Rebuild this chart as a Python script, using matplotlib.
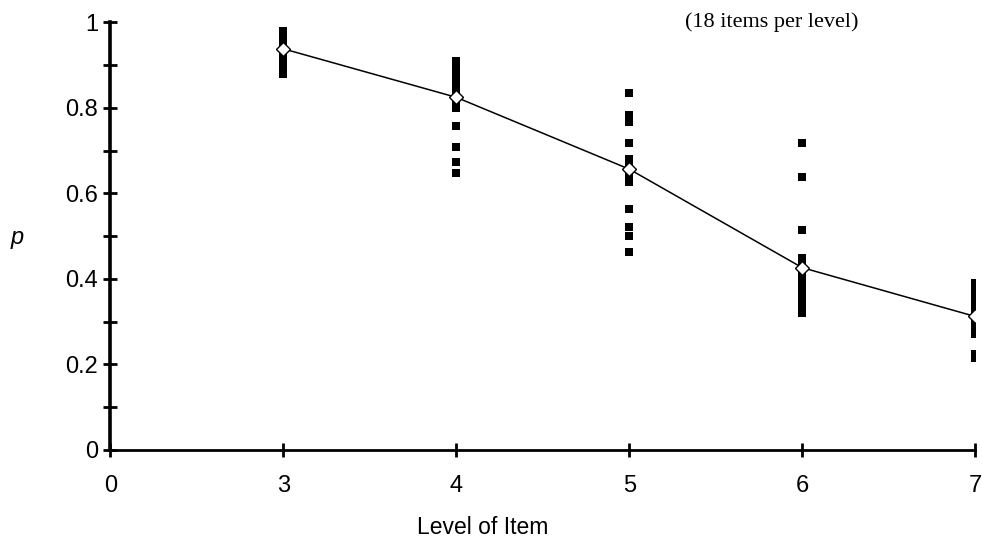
import numpy as np
import matplotlib.pyplot as plt

# category axis as drawn in the source chart
x_labels = ['0', '3', '4', '5', '6', '7']
levels = [3, 4, 5, 6, 7]
y_ticks = [0, 0.2, 0.4, 0.6, 0.8, 1]
y_tick_labels = ['0', '0.2', '0.4', '0.6', '0.8', '1']
y_minor = [0.1, 0.3, 0.5, 0.7, 0.9]

# proportion correct for the 18 items of each level
p_level3 = [0.98, 0.975, 0.97, 0.965, 0.96, 0.955, 0.95, 0.95, 0.945,
            0.94, 0.935, 0.93, 0.925, 0.92, 0.91, 0.90, 0.89, 0.88]
p_level4 = [0.91, 0.905, 0.90, 0.89, 0.885, 0.88, 0.87, 0.86, 0.85,
            0.84, 0.83, 0.82, 0.81, 0.80, 0.758, 0.709, 0.674, 0.647]
p_level5 = [0.834, 0.784, 0.766, 0.718, 0.679, 0.667, 0.644, 0.627, 0.564,
            0.520, 0.501, 0.462, 0.78, 0.77, 0.68, 0.66, 0.64, 0.52]
p_level6 = [0.718, 0.639, 0.515, 0.448, 0.43, 0.42, 0.41, 0.405, 0.40,
            0.395, 0.39, 0.385, 0.38, 0.37, 0.36, 0.35, 0.335, 0.32]
p_level7 = [0.39, 0.38, 0.37, 0.36, 0.35, 0.34, 0.33, 0.32, 0.31,
            0.305, 0.30, 0.295, 0.29, 0.285, 0.28, 0.27, 0.225, 0.215]
items = [p_level3, p_level4, p_level5, p_level6, p_level7]

plt.rcParams['font.family'] = ['Liberation Sans', 'DejaVu Sans']

fig = plt.figure(figsize=(9.82, 5.42), dpi=100)
ax = fig.add_axes([0.1125, 0.17, 0.8805, 0.789])

pos = [x_labels.index(str(lv)) for lv in levels]
for xp, vals in zip(pos, items):
    ax.plot([xp] * len(vals), vals, linestyle='none', marker='s',
            markersize=5.8, color='black', markeredgewidth=0, zorder=2)

means = [np.mean(v) for v in items]
ax.plot(pos, means, color='black', linewidth=1.1, marker='D',
        markersize=7, markerfacecolor='white', markeredgecolor='black',
        markeredgewidth=1.0, zorder=3)

ax.set_xlim(0, len(x_labels) - 1)
ax.set_ylim(0, 1)
ax.set_xticks(range(len(x_labels)))
ax.set_xticklabels(x_labels)
ax.set_yticks(y_ticks)
ax.set_yticklabels(y_tick_labels)
ax.set_yticks(y_minor, minor=True)

for s in ['top', 'right']:
    ax.spines[s].set_visible(False)
ax.spines['left'].set_linewidth(2.6)
ax.spines['bottom'].set_linewidth(2.0)
ax.tick_params(axis='both', which='both', direction='inout', length=10,
               width=2.0, labelsize=17)
ax.tick_params(axis='y', which='major', pad=4)
ax.tick_params(axis='x', which='major', pad=13)
ax.spines['left'].set_zorder(4)

fig.text(0.492, 0.026, 'Level of Item', ha='center', va='center', fontsize=16.5)
fig.text(0.017, 0.561, 'p', ha='center', va='center', fontsize=17, style='italic')
fig.text(0.874, 0.959, '(18 items per level)', ha='right', va='center',
         fontsize=16, family=['Liberation Serif', 'DejaVu Serif'])

fig.savefig('out.png', dpi=100)
